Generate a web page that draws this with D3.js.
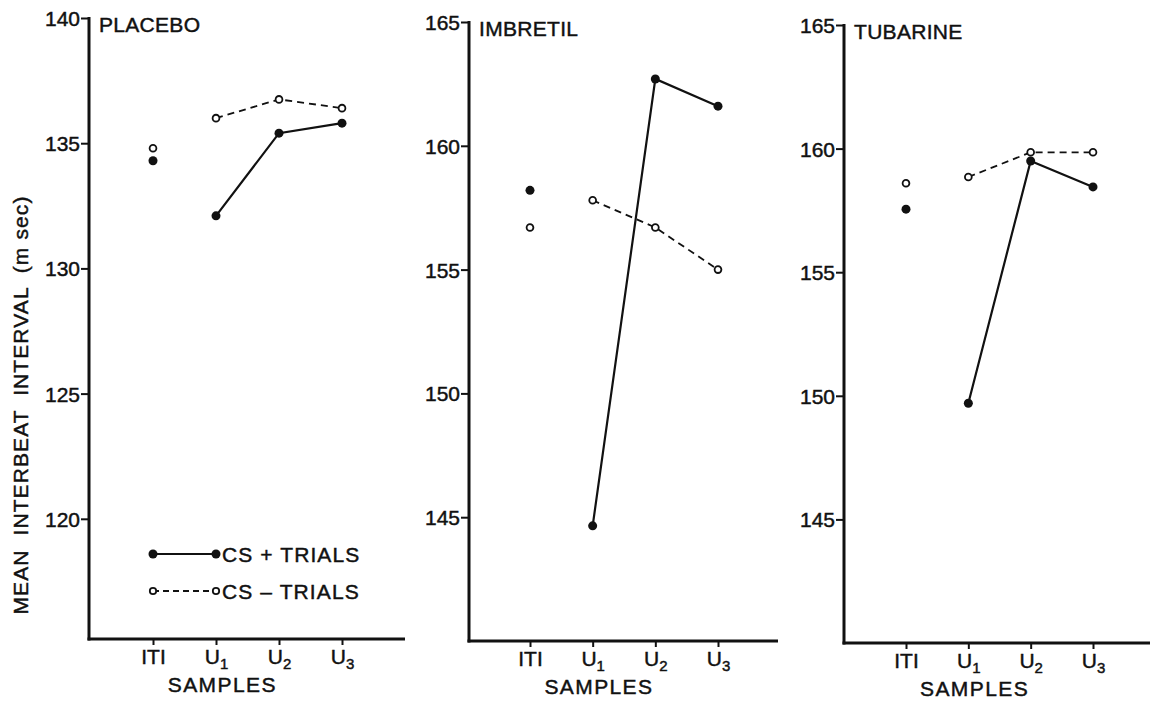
<!DOCTYPE html>
<html>
<head>
<meta charset="utf-8">
<script src="https://cdn.jsdelivr.net/npm/d3@7"></script>
<style>
  html, body { margin: 0; padding: 0; background: #fff; }
  svg text { font-family: "Liberation Sans", Arial, sans-serif; fill: #111; stroke: #111; stroke-width: 0.45px; }
</style>
</head>
<body>
<svg id="chart" width="1150" height="703"></svg>
<script>
// ---------- data ----------
const samples = ["ITI", "U1", "U2", "U3"];
const panelNames = ["PLACEBO", "IMBRETIL", "TUBARINE"];

const placeboCSPlus   = [134.3, 132.1, 135.4, 135.8];
const placeboCSMinus  = [134.8, 136.0, 136.75, 136.4];
const imbretilCSPlus  = [158.2, 144.65, 162.7, 161.6];
const imbretilCSMinus = [156.7, 157.8, 156.7, 155.0];
const tubarineCSPlus  = [157.55, 149.7, 159.5, 158.45];
const tubarineCSMinus = [158.6, 158.85, 159.85, 159.85];

const placeboTicks  = [120, 125, 130, 135, 140];
const imbretilTicks = [145, 150, 155, 160, 165];
const tubarineTicks = [145, 150, 155, 160, 165];

const placeboDomain  = [115.2, 140];
const imbretilDomain = [140, 165];
const tubarineDomain = [140, 165];

const legendLabels = ["CS + TRIALS", "CS \u2013 TRIALS"];
const yTitle = "MEAN  INTERBEAT  INTERVAL  (m sec)";
const xTitle = "SAMPLES";

// ---------- layout ----------
const panels = [
  { name: panelNames[0], plus: placeboCSPlus, minus: placeboCSMinus, ticks: placeboTicks, domain: placeboDomain,
    axisX: 89, top: 18, bottom: 639, x0: 153, x1: 342, xEnd: 405, legend: true },
  { name: panelNames[1], plus: imbretilCSPlus, minus: imbretilCSMinus, ticks: imbretilTicks, domain: imbretilDomain,
    axisX: 469, top: 22, bottom: 641, x0: 530, x1: 718, xEnd: 778 },
  { name: panelNames[2], plus: tubarineCSPlus, minus: tubarineCSMinus, ticks: tubarineTicks, domain: tubarineDomain,
    axisX: 844, top: 25, bottom: 643, x0: 906, x1: 1093, xEnd: 1150 }
];

const svg = d3.select("#chart");
const ink = "#111";

// y-axis title
svg.append("text")
  .attr("transform", "translate(27.5,405) rotate(-90)")
  .attr("text-anchor", "middle")
  .attr("font-size", 21)
  .attr("letter-spacing", 1.1)
  .style("white-space", "pre")
  .text(yTitle);

function labelWithSub(sel, s) {
  sel.text(null);
  if (s.length === 2 && s[0] === "U") {
    sel.append("tspan").text("U");
    sel.append("tspan").attr("font-size", 15).attr("dy", 5).text(s[1]);
  } else {
    sel.append("tspan").text(s);
  }
}

panels.forEach(p => {
  const g = svg.append("g");
  const x = d3.scalePoint().domain(samples).range([p.x0, p.x1]);
  const y = d3.scaleLinear().domain(p.domain).range([p.bottom, p.top]);

  // y axis
  const yAxis = d3.axisLeft(y).tickValues(p.ticks).tickSize(8).tickSizeOuter(0).tickPadding(1).tickFormat(d3.format("d"));
  const ya = g.append("g").attr("transform", `translate(${p.axisX},0)`).call(yAxis);
  ya.select(".domain").remove();
  ya.selectAll(".tick line").attr("stroke", ink).attr("stroke-width", 2);
  ya.selectAll(".tick text").attr("font-size", 21).attr("fill", ink)
    .attr("font-family", "Liberation Sans, Arial, sans-serif").attr("dy", "0.36em");
  g.append("line").attr("x1", p.axisX).attr("x2", p.axisX)
    .attr("y1", y(p.domain[1]) - 1).attr("y2", p.bottom + 1.5)
    .attr("stroke", ink).attr("stroke-width", 3);

  // x axis
  g.append("line").attr("x1", p.axisX - 1.5).attr("x2", p.xEnd)
    .attr("y1", p.bottom).attr("y2", p.bottom)
    .attr("stroke", ink).attr("stroke-width", 3);
  const xAxis = d3.axisBottom(x).tickSize(6).tickSizeOuter(0).tickPadding(6);
  const xa = g.append("g").attr("transform", `translate(0,${p.bottom})`).call(xAxis);
  xa.select(".domain").remove();
  xa.selectAll(".tick line").attr("stroke", ink).attr("stroke-width", 2);
  xa.selectAll(".tick text").attr("font-size", 21).attr("fill", ink)
    .attr("font-family", "Liberation Sans, Arial, sans-serif")
    .attr("dy", null).attr("y", 25)
    .each(function(d) { labelWithSub(d3.select(this), d); });

  g.append("text")
    .attr("x", x("U1") + (x("U2") - x("U1")) * 0.1)
    .attr("y", p.bottom + 53)
    .attr("text-anchor", "middle").attr("font-size", 21).attr("letter-spacing", 1.4)
    .text(xTitle);

  // panel title
  g.append("text").attr("x", p.axisX + 10).attr("y", p.top + 14)
    .attr("font-size", 21).attr("letter-spacing", 0.3).text(p.name);

  // lines (U1..U3 connected, ITI separate)
  const line = d3.line().x((d, i) => x(samples[i + 1])).y(d => y(d));
  g.append("path").datum(p.minus.slice(1)).attr("d", line)
    .attr("fill", "none").attr("stroke", ink).attr("stroke-width", 1.8).attr("stroke-dasharray", "7,5");
  g.append("path").datum(p.plus.slice(1)).attr("d", line)
    .attr("fill", "none").attr("stroke", ink).attr("stroke-width", 2.2);

  g.selectAll(".minus").data(p.minus).enter().append("circle")
    .attr("cx", (d, i) => x(samples[i])).attr("cy", d => y(d)).attr("r", 3.4)
    .attr("fill", "#fff").attr("stroke", ink).attr("stroke-width", 1.8);
  g.selectAll(".plus").data(p.plus).enter().append("circle")
    .attr("cx", (d, i) => x(samples[i])).attr("cy", d => y(d)).attr("r", 4.5)
    .attr("fill", ink);

  if (p.legend) {
    const lx0 = x("ITI"), lx1 = x("U1");
    const ly = [554, 591];
    // CS+
    g.append("line").attr("x1", lx0).attr("x2", lx1).attr("y1", ly[0]).attr("y2", ly[0])
      .attr("stroke", ink).attr("stroke-width", 2.2);
    [lx0, lx1].forEach(cx => g.append("circle").attr("cx", cx).attr("cy", ly[0]).attr("r", 4.5).attr("fill", ink));
    // CS-
    g.append("line").attr("x1", lx0).attr("x2", lx1).attr("y1", ly[1]).attr("y2", ly[1])
      .attr("stroke", ink).attr("stroke-width", 1.8).attr("stroke-dasharray", "6,4");
    [lx0, lx1].forEach(cx => g.append("circle").attr("cx", cx).attr("cy", ly[1]).attr("r", 3.2)
      .attr("fill", "#fff").attr("stroke", ink).attr("stroke-width", 1.8));
    legendLabels.forEach((t, i) => {
      g.append("text").attr("x", lx1 + 6).attr("y", ly[i] + 8).attr("font-size", 21)
        .attr("letter-spacing", 1.1).text(t);
    });
  }
});
</script>
</body>
</html>
